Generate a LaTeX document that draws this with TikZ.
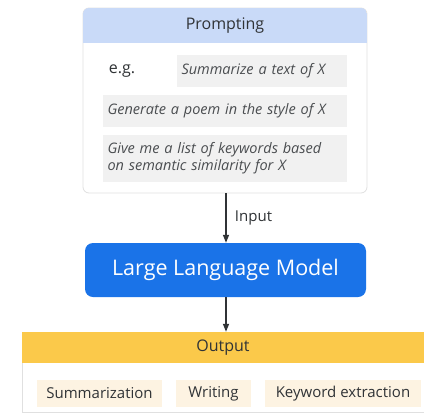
\documentclass[tikz,border=0pt]{standalone}
\usepackage{fontspec}
\setmainfont{Open Sans}
\usetikzlibrary{arrows.meta}
\definecolor{hdrblue}{HTML}{C9DAF8}
\definecolor{llmblue}{HTML}{1A73E8}
\definecolor{gold}{HTML}{FBC94A}
\definecolor{cream}{HTML}{FDF3E2}
\definecolor{grbox}{HTML}{F1F1F1}
\definecolor{txt}{HTML}{303336}
\definecolor{itxt}{HTML}{4A4D50}
\definecolor{edge}{HTML}{E0E0E0}
\tikzset{
  gbox/.style={fill=grbox, draw=none, minimum height=32pt, inner sep=0pt, font=\fontsize{14.5}{17}\selectfont\itshape, text=itxt, align=left},
  item/.style={fill=cream, draw=none, minimum height=27pt, inner sep=0pt, font=\fontsize{15}{17}\selectfont, text=txt},
  conn/.style={draw=txt, line width=1.3pt, -{Triangle[length=8pt,width=6pt]}}
}
\begin{document}
\begin{tikzpicture}[x=1pt,y=-1pt]
\useasboundingbox (0,0) rectangle (424,416);
\fill[white] (0,0) rectangle (424,416);
% Prompting panel
\node[draw=edge, line width=0.8pt, fill=white, rounded corners=6pt, minimum width=284pt, minimum height=185pt, inner sep=0pt] (prompt) at (225,100.5) {};
\begin{scope}
\clip[rounded corners=6pt] (83,8) rectangle (367,193);
\fill[hdrblue] (83,8) rectangle (367,43);
\end{scope}
\node[font=\fontsize{16}{19}\selectfont, text=txt] (ptitle) at (225,25.5) {Prompting};
\node[font=\fontsize{16}{19}\selectfont, text=txt] (eg) at (122,71) {e.g.};
\node[gbox, minimum width=170pt, text width=161pt] (p1) at (262,71) {Summarize a text of X};
\node[gbox, minimum width=244pt, text width=235pt] (p2) at (225,111) {Generate a poem in the style of X};
\node[gbox, minimum width=244pt, minimum height=47pt, text width=235pt] (p3) at (225,158.5) {Give me a list of keywords based\\on semantic similarity for X};
% LLM
\node[fill=llmblue, rounded corners=8pt, minimum width=281pt, minimum height=54pt, inner sep=0pt, text=white, font=\fontsize{21.5}{25}\selectfont] (llm) at (225.5,270) {Large Language Model};
% Output panel
\node[draw=edge, line width=0.8pt, fill=white, minimum width=402pt, minimum height=80pt, inner sep=0pt] (outbody) at (223,372) {};
\node[fill=gold, minimum width=402pt, minimum height=31pt, inner sep=0pt, text=txt, font=\fontsize{16}{19}\selectfont] (out) at (223,347.5) {Output};
\node[item, minimum width=125pt] (o1) at (99.5,393.5) {Summarization};
\node[item, minimum width=75pt] (o2) at (213.5,393.5) {Writing};
\node[item, minimum width=156pt] (o3) at (343,393.5) {Keyword extraction};
% connectors
\draw[conn] (prompt.south -| 226,0) -- node[right=5pt, text=txt, font=\fontsize{15}{17}\selectfont] {Input} (llm.north -| 226,0);
\draw[conn] (llm.south -| 226,0) -- (out.north -| 226,0);
\end{tikzpicture}
\end{document}
